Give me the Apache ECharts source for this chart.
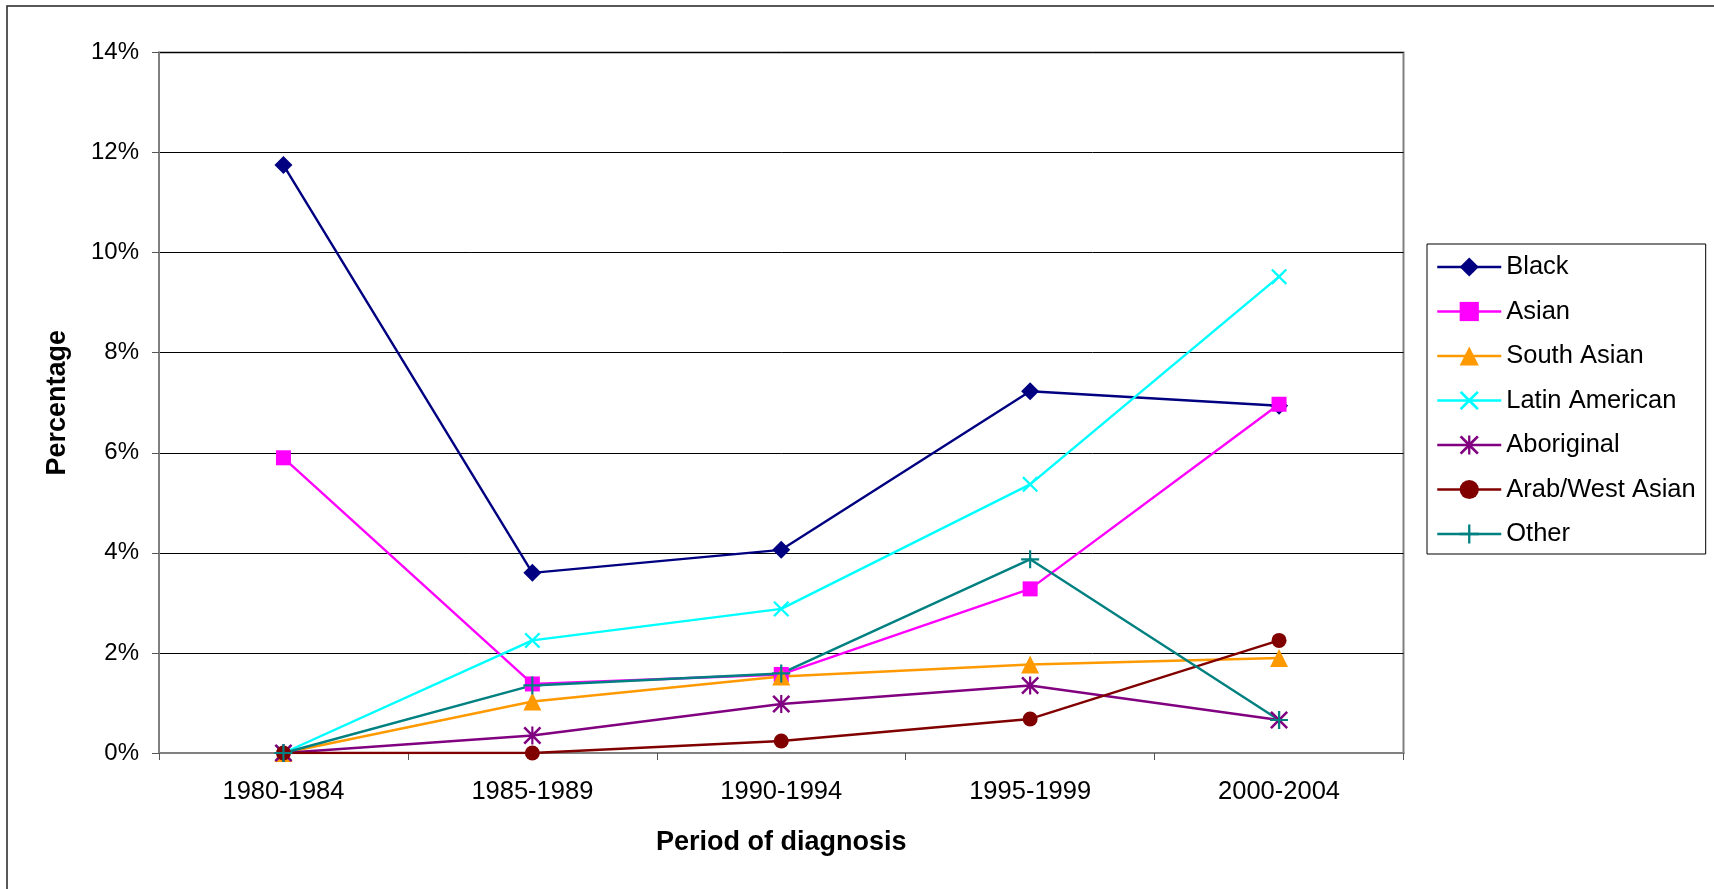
<!DOCTYPE html>
<html>
<head>
<meta charset="utf-8">
<script src="https://cdn.jsdelivr.net/npm/echarts@6/dist/echarts.min.js"></script>
<style>
html,body{margin:0;padding:0;background:#fff;}
#chart{width:1714px;height:889px;}
</style>
</head>
<body>
<div id="chart"></div>
<script>
const categories = ['1980-1984', '1985-1989', '1990-1994', '1995-1999', '2000-2004'];
const black = [11.75, 3.60, 4.06, 7.23, 6.94];
const asian = [5.90, 1.38, 1.57, 3.28, 6.97];
const southAsian = [0, 1.03, 1.53, 1.77, 1.90];
const latinAmerican = [0, 2.25, 2.88, 5.37, 9.52];
const aboriginal = [0, 0.35, 0.98, 1.35, 0.66];
const arabWestAsian = [0, 0, 0.24, 0.68, 2.25];
const other = [0, 1.35, 1.59, 3.87, 0.66];
const yTicks = [0, 2, 4, 6, 8, 10, 12, 14];

const FONT = '"Liberation Sans", Arial, sans-serif';
const X_PATH = 'path://M0,1 L1,0 L5,4 L9,0 L10,1 L6,5 L10,9 L9,10 L5,6 L1,10 L0,9 L4,5 Z';
const PLUS_PATH = 'path://M4.4,0 H5.6 V4.4 H10 V5.6 H5.6 V10 H4.4 V5.6 H0 V4.4 H4.4 Z';
const AST_PATH = 'path://M0,1 L1,0 L5,4 L9,0 L10,1 L6,5 L10,9 L9,10 L5,6 L1,10 L0,9 L4,5 Z M4.4,0 H5.6 V10 H4.4 Z';

function mk(name, data, color, symbol, size) {
  return {
    name: name, type: 'line', data: data,
    symbol: symbol, symbolSize: size, showAllSymbol: true,
    itemStyle: { color: color },
    lineStyle: { color: color, width: 2.4 },
    emphasis: { disabled: true },
    animation: false
  };
}

const chart = echarts.init(document.getElementById('chart'), null, { renderer: 'canvas' });
chart.setOption({
  backgroundColor: '#fff',
  animation: false,
  graphic: [{
    type: 'rect', shape: { x: 7, y: 6, width: 1800, height: 1000 },
    style: { fill: 'none', stroke: '#222', lineWidth: 1.5 }, silent: true, z: -1
  }],
  grid: {
    left: 159, right: 310.5, top: 52.5, bottom: 136,
    show: true, borderColor: '#808080', borderWidth: 2, backgroundColor: 'transparent'
  },
  legend: {
    orient: 'vertical', left: 1427, top: 244,
    padding: [10, 10, 7, 9],
    itemWidth: 64, itemHeight: 24, itemGap: 18.5,
    borderColor: '#000', borderWidth: 1, backgroundColor: '#fff',
    lineStyle: { width: 2.5 },
    textStyle: { fontFamily: FONT, fontSize: 25.5, color: '#000' },
    selectedMode: false,
    data: ['Black', 'Asian', 'South Asian', 'Latin American', 'Aboriginal', 'Arab/West Asian', 'Other']
  },
  xAxis: {
    type: 'category', data: categories, boundaryGap: true,
    name: 'Period of diagnosis', nameLocation: 'middle', nameGap: 76,
    nameTextStyle: { fontFamily: FONT, fontSize: 27, fontWeight: 'bold', color: '#000' },
    axisLine: { lineStyle: { color: '#808080', width: 2 } },
    axisTick: { show: true, length: 7, lineStyle: { color: '#555', width: 1 } },
    axisLabel: { fontFamily: FONT, fontSize: 25.5, color: '#000', margin: 26 },
    splitLine: { show: false }
  },
  yAxis: {
    type: 'value', min: 0, max: 14, interval: 2,
    name: 'Percentage', nameLocation: 'middle', nameGap: 88, nameRotate: 90,
    nameTextStyle: { fontFamily: FONT, fontSize: 27, fontWeight: 'bold', color: '#000' },
    axisLine: { show: true, lineStyle: { color: '#808080', width: 2 } },
    axisTick: { show: true, length: 7, lineStyle: { color: '#555', width: 1 } },
    axisLabel: {
      fontFamily: FONT, fontSize: 24, color: '#000', margin: 20,
      formatter: function (v) { return yTicks.indexOf(v) >= 0 ? v + '%' : ''; }
    },
    splitLine: { show: true, lineStyle: { color: '#000', width: 1 } }
  },
  series: [
    mk('Black', black, '#000080', 'diamond', 18),
    mk('Asian', asian, '#FF00FF', 'rect', 15),
    mk('South Asian', southAsian, '#FF9900', 'triangle', 18),
    mk('Latin American', latinAmerican, '#00FFFF', X_PATH, 16),
    mk('Aboriginal', aboriginal, '#800080', AST_PATH, 18),
    mk('Arab/West Asian', arabWestAsian, '#800000', 'circle', 15),
    mk('Other', other, '#008080', PLUS_PATH, 18)
  ]
});
</script>
</body>
</html>
